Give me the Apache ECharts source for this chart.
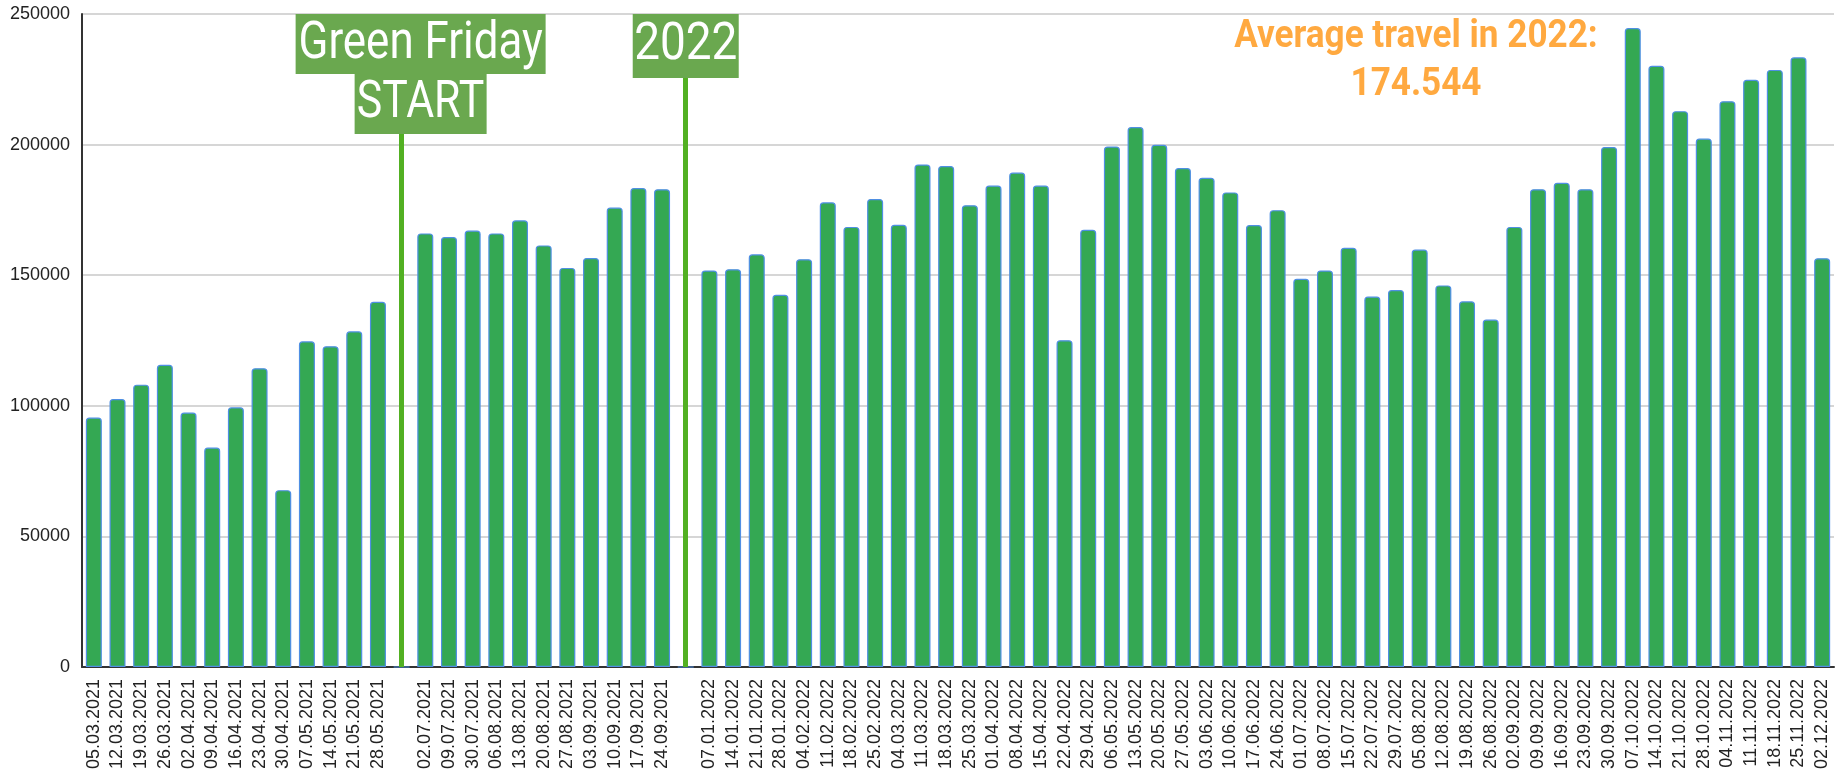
<!DOCTYPE html>
<html>
<head>
<meta charset="utf-8">
<script src="https://cdn.jsdelivr.net/npm/echarts@6/dist/echarts.min.js"></script>
<style>
  html, body { margin: 0; padding: 0; background: #fff; }
  #chart { width: 1841px; height: 777px; }
</style>
</head>
<body>
<div id="chart"></div>
<script>
// weekly dates, split where the chart leaves an empty slot
const dates2021a = ['05.03.2021', '12.03.2021', '19.03.2021', '26.03.2021', '02.04.2021', '09.04.2021', '16.04.2021',
  '23.04.2021', '30.04.2021', '07.05.2021', '14.05.2021', '21.05.2021', '28.05.2021']
const dates2021b = ['02.07.2021', '09.07.2021', '30.07.2021', '06.08.2021', '13.08.2021', '20.08.2021', '27.08.2021',
  '03.09.2021', '10.09.2021', '17.09.2021', '24.09.2021']
const dates2022 = ['07.01.2022', '14.01.2022', '21.01.2022', '28.01.2022', '04.02.2022', '11.02.2022', '18.02.2022',
  '25.02.2022', '04.03.2022', '11.03.2022', '18.03.2022', '25.03.2022', '01.04.2022', '08.04.2022', '15.04.2022',
  '22.04.2022', '29.04.2022', '06.05.2022', '13.05.2022', '20.05.2022', '27.05.2022', '03.06.2022', '10.06.2022',
  '17.06.2022', '24.06.2022', '01.07.2022', '08.07.2022', '15.07.2022', '22.07.2022', '29.07.2022', '05.08.2022',
  '12.08.2022', '19.08.2022', '26.08.2022', '02.09.2022', '09.09.2022', '16.09.2022', '23.09.2022', '30.09.2022',
  '07.10.2022', '14.10.2022', '21.10.2022', '28.10.2022', '04.11.2022', '11.11.2022', '18.11.2022', '25.11.2022',
  '02.12.2022']

const travel2021a = [95500, 102600, 108100, 115700, 97400, 84000, 99400, 114400, 67700, 124700, 122800, 128500, 139800]
const travel2021b = [166000, 164600, 167100, 166000, 171000, 161400, 152800, 156600, 175900, 183400, 182900]
const travel2022 = [151800, 152300, 158000, 142500, 156100, 177900, 168500, 179200, 169300, 192400, 191800, 176800,
  184300, 189300, 184300, 125100, 167400, 199300, 206700, 199900, 191000, 187300, 181700, 169200, 174900, 148600,
  151800, 160500, 141800, 144300, 159800, 146100, 140000, 133000, 168500, 182900, 185400, 182900, 199100, 244600,
  230200, 212800, 202300, 216600, 224800, 228600, 233400, 156500]

const yTicks = [0, 50000, 100000, 150000, 200000, 250000]
const avgLines = ['Average travel in 2022:', '174.544']

const categories = [...dates2021a, '', ...dates2021b, '', ...dates2022]
const values = [...travel2021a, 0, ...travel2021b, 0, ...travel2022]
const greenFridayIdx = dates2021a.length
const yearIdx = dates2021a.length + 1 + dates2021b.length

const lineColor = '#52b022'
const boxColor = '#6aa84f'

const chart = echarts.init(document.getElementById('chart'))

chart.setOption({
  animation: false,
  grid: { left: 82, right: 7, top: 14, bottom: 110 },
  xAxis: {
    type: 'category',
    data: categories,
    axisTick: { show: false },
    axisLine: { lineStyle: { color: '#333', width: 2 } },
    axisLabel: {
      interval: 0,
      rotate: 90,
      margin: 12,
      fontFamily: 'Liberation Sans',
      fontSize: 18,
      color: '#222'
    }
  },
  yAxis: {
    type: 'value',
    min: yTicks[0],
    max: yTicks[yTicks.length - 1],
    interval: yTicks[1] - yTicks[0],
    axisLine: { show: true, lineStyle: { color: '#333', width: 2 } },
    axisTick: { show: false },
    splitLine: { lineStyle: { color: '#d6d6d6', width: 2 } },
    axisLabel: {
      margin: 12,
      fontFamily: 'Liberation Sans',
      fontSize: 18,
      color: '#222',
      formatter: v => String(v)
    }
  },
  series: [{
    type: 'bar',
    data: values,
    barWidth: 16,
    itemStyle: {
      color: '#34a853',
      borderColor: '#4f8fe3',
      borderWidth: 1.2,
      borderRadius: [3, 3, 0, 0]
    },
    markLine: {
      silent: true,
      symbol: 'none',
      label: { show: false },
      lineStyle: { color: lineColor, width: 5, type: 'solid' },
      data: [
        [{ coord: [greenFridayIdx, 0] }, { coord: [greenFridayIdx, 240000] }],
        [{ coord: [yearIdx, 0] }, { coord: [yearIdx, 240000] }]
      ]
    }
  }]
})

// annotation boxes anchored on the empty categories
const gfX = chart.convertToPixel({ xAxisIndex: 0 }, greenFridayIdx)
const yrX = chart.convertToPixel({ xAxisIndex: 0 }, yearIdx)
const topY = chart.convertToPixel({ yAxisIndex: 0 }, yTicks[yTicks.length - 1])

const boxText = (text, cx, cy, size, scale) => ({
  type: 'group', x: cx, y: cy, scaleX: scale, z: 101,
  children: [{
    type: 'text', z: 101,
    style: {
      text, font: size + 'px Roboto', fill: '#fff',
      align: 'center', verticalAlign: 'middle', textAlign: 'center', textVerticalAlign: 'middle'
    }
  }]
})

const avgText = (text, cy) => ({
  type: 'group', x: 1416, y: cy, scaleX: 0.9, z: 101,
  children: [{
    type: 'text', z: 101,
    style: {
      text, font: 'bold 39px Roboto', fill: '#ffa940',
      align: 'center', verticalAlign: 'middle', textAlign: 'center', textVerticalAlign: 'middle'
    }
  }]
})

chart.setOption({
  graphic: [
    { type: 'rect', z: 100, shape: { x: gfX - 106, y: topY, width: 250, height: 60 }, style: { fill: boxColor } },
    { type: 'rect', z: 100, shape: { x: gfX - 47, y: topY + 60, width: 132, height: 60 }, style: { fill: boxColor } },
    { type: 'rect', z: 100, shape: { x: yrX - 53, y: topY, width: 106, height: 64 }, style: { fill: boxColor } },
    boxText('Green Friday', gfX + 19, topY + 31, 51, 0.86),
    boxText('START', gfX + 19, topY + 90, 51, 0.84),
    boxText('2022', yrX, topY + 32, 51, 0.9),
    avgText(avgLines[0], 37),
    avgText(avgLines[1], 85)
  ]
})
</script>
</body>
</html>
